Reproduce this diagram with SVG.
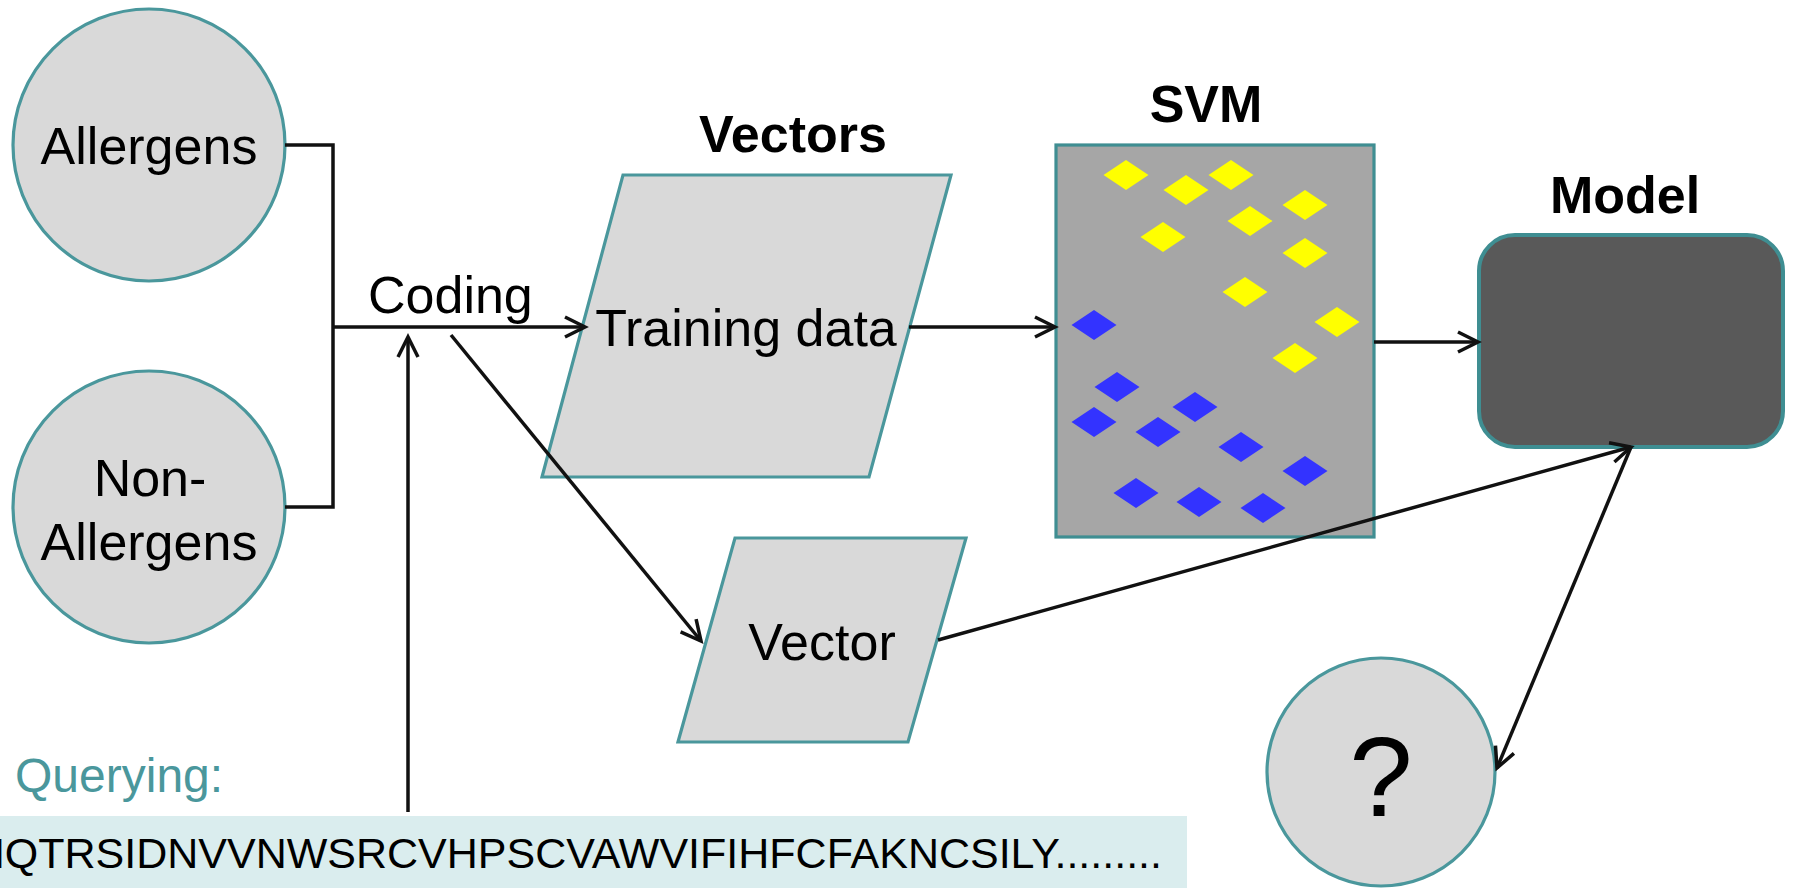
<svg xmlns="http://www.w3.org/2000/svg" width="1793" height="888" viewBox="0 0 1793 888">
<style>
.t{font-family:"Liberation Sans",Arial,sans-serif;font-size:52px;fill:#000}
.b{font-weight:bold}
.c{fill:#d9d9d9;stroke:#4a979c;stroke-width:3.2}
.ln{fill:none;stroke:#111;stroke-width:3.5}
.y{fill:#ffff00}
.bl{fill:#3333ff}
</style>
<defs>
<marker id="arr" markerUnits="userSpaceOnUse" viewBox="-25 -15 30 30" markerWidth="30" markerHeight="30" refX="0" refY="0" orient="auto" overflow="visible">
<path d="M-20,-10 L0,0 L-20,10" fill="none" stroke="#111" stroke-width="3.5"/>
</marker>
<path id="dia" d="M-22.5,0 L0,-15 L22.5,0 L0,15 Z"/>
</defs>
<rect width="1793" height="888" fill="#fff"/>

<g id="allergens">
<circle class="c" cx="149" cy="145" r="136"/>
<text class="t" x="149" y="164" text-anchor="middle">Allergens</text>
</g>
<g id="non-allergens">
<circle class="c" cx="149" cy="507" r="136"/>
<text class="t" x="150" y="496" text-anchor="middle">Non-</text>
<text class="t" x="149" y="560" text-anchor="middle">Allergens</text>
</g>

<g id="coding-label">
<text class="t" x="368" y="313">Coding</text>
</g>

<g id="vectors">
<text class="t b" x="793" y="152" text-anchor="middle">Vectors</text>
<polygon class="c" points="623,175 951,175 869,477 542,477"/>
<text class="t" x="746" y="346" text-anchor="middle">Training data</text>
</g>

<g id="vector">
<polygon class="c" points="735,538 966,538 908,742 678,742"/>
<text class="t" x="822" y="660" text-anchor="middle">Vector</text>
</g>

<g id="svm">
<text class="t b" x="1206" y="122" text-anchor="middle">SVM</text>
<rect x="1056" y="145" width="318" height="392" fill="#a6a6a6" stroke="#3f8e92" stroke-width="3.2"/>
<g class="y">
<use href="#dia" x="1126" y="175"/>
<use href="#dia" x="1186" y="190"/>
<use href="#dia" x="1231" y="175"/>
<use href="#dia" x="1305" y="205"/>
<use href="#dia" x="1250" y="221"/>
<use href="#dia" x="1163" y="237"/>
<use href="#dia" x="1305" y="253"/>
<use href="#dia" x="1245" y="292"/>
<use href="#dia" x="1337" y="322"/>
<use href="#dia" x="1295" y="358"/>
</g>
<g class="bl">
<use href="#dia" x="1094" y="325"/>
<use href="#dia" x="1117" y="387"/>
<use href="#dia" x="1195" y="407"/>
<use href="#dia" x="1094" y="422"/>
<use href="#dia" x="1158" y="432"/>
<use href="#dia" x="1241" y="447"/>
<use href="#dia" x="1305" y="471"/>
<use href="#dia" x="1136" y="493"/>
<use href="#dia" x="1199" y="502"/>
<use href="#dia" x="1263" y="508"/>
</g>
</g>

<g id="model">
<text class="t b" x="1625" y="213" text-anchor="middle">Model</text>
<rect x="1479" y="235" width="304" height="212" rx="36" ry="36" fill="#595959" stroke="#3f8e92" stroke-width="4"/>
</g>

<g id="unknown">
<circle class="c" cx="1381" cy="772" r="114"/>
<text class="t" x="1381" y="816" text-anchor="middle" style="font-size:114px">?</text>
</g>

<g id="query">
<text class="t" x="15" y="792" style="fill:#4a979c;font-size:48px">Querying:</text>
<rect x="0" y="816" width="1187" height="72" fill="#daedee"/>
<text class="t" x="-31" y="868" style="font-size:43px">MQTRSIDNVVNWSRCVHPSCVAWVIFIHFCFAKNCSILY.........</text>
</g>

<g id="connectors">
<polyline class="ln" points="285,145 333,145 333,507 285,507"/>
<line class="ln" x1="333" y1="327" x2="585" y2="327" marker-end="url(#arr)"/>
<line class="ln" x1="408" y1="812" x2="408" y2="337" stroke-width="3" marker-end="url(#arr)"/>
<line class="ln" x1="451" y1="335" x2="701" y2="641" stroke-width="3" marker-end="url(#arr)"/>
<line class="ln" x1="909" y1="327" x2="1055" y2="327" marker-end="url(#arr)"/>
<line class="ln" x1="1374" y1="342" x2="1478" y2="342" marker-end="url(#arr)"/>
<line class="ln" x1="938" y1="640" x2="1631" y2="447" marker-end="url(#arr)"/>
<line class="ln" x1="1631" y1="447" x2="1497" y2="768" marker-end="url(#arr)"/>
</g>
</svg>
